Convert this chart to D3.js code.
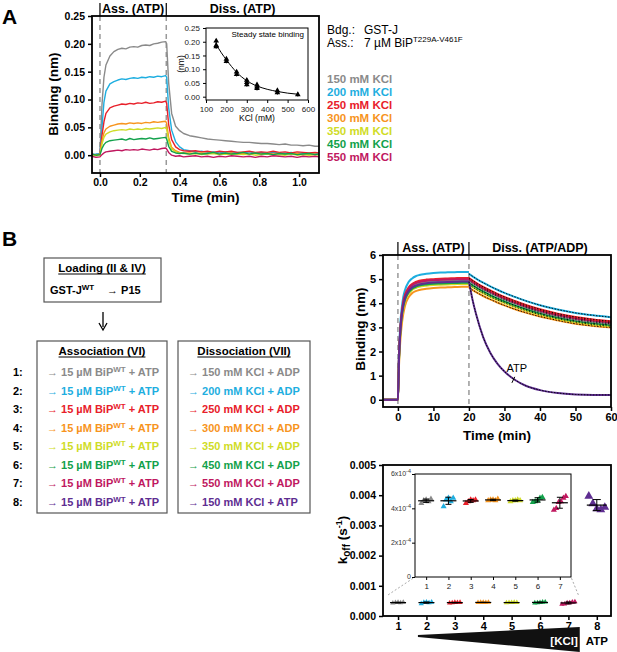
<!DOCTYPE html>
<html>
<head>
<meta charset="utf-8">
<script src="https://cdn.jsdelivr.net/npm/d3@7"></script>
<style>
  body { margin: 0; background: #fff; }
  svg { font-family: "Liberation Sans", Arial, sans-serif; }
</style>
</head>
<body>
<svg id="fig" width="617" height="652"></svg>
<script>
// ---------- data ----------
const kcl = [150, 200, 250, 300, 350, 450, 550];
const kclColor = ['#8a8a8a', '#1eaee0', '#e8202a', '#f7941d', '#cfdc27', '#12a14b', '#c0185f'];
const atpColor = '#5e2d91';

// panel A: binding traces (nm) vs time (min)
const tA = [-0.04,-0.02,0,0.01,0.02,0.03,0.05,0.07,0.09,0.11,0.13,0.15,0.17,0.19,0.21,0.23,0.25,0.27,0.29,0.31,0.33,
            0.335,0.345,0.36,0.38,0.40,0.42,0.45,0.48,0.51,0.54,0.57,0.60,0.63,0.66,0.69,0.72,0.75,0.78,0.81,0.84,0.87,
            0.90,0.93,0.96,0.99,1.02,1.05,1.08,1.10];
const bind150 = [0.002,0.001,0.003,0.09,0.14,0.162,0.178,0.186,0.19,0.192,0.191,0.194,0.195,0.194,0.197,0.198,0.197,0.2,0.201,0.203,0.204,
                 0.2,0.13,0.075,0.052,0.044,0.039,0.035,0.033,0.031,0.029,0.028,0.027,0.026,0.025,0.024,0.023,0.023,0.022,0.021,0.021,0.02,
                 0.019,0.02,0.018,0.018,0.017,0.018,0.016,0.016];
const bind200 = [0.001,0.002,0.002,0.05,0.095,0.115,0.128,0.132,0.135,0.137,0.136,0.138,0.139,0.138,0.14,0.139,0.141,0.14,0.142,0.141,0.143,
                 0.14,0.085,0.045,0.024,0.015,0.01,0.008,0.006,0.007,0.005,0.006,0.004,0.006,0.005,0.005,0.004,0.006,0.004,0.005,0.003,0.005,
                 0.004,0.003,0.005,0.003,0.004,0.003,0.004,0.003];
const bind250 = [0.002,0.0,0.002,0.035,0.06,0.075,0.085,0.088,0.09,0.092,0.091,0.093,0.092,0.094,0.093,0.095,0.093,0.094,0.096,0.095,0.097,
                 0.093,0.055,0.028,0.015,0.01,0.008,0.007,0.008,0.006,0.007,0.005,0.007,0.006,0.007,0.005,0.006,0.007,0.005,0.006,0.005,0.007,
                 0.005,0.006,0.004,0.006,0.005,0.004,0.005,0.004];
const bind300 = [0.0,0.001,0.0,0.025,0.04,0.047,0.052,0.054,0.056,0.057,0.056,0.058,0.057,0.058,0.057,0.059,0.058,0.06,0.059,0.06,0.061,
                 0.057,0.032,0.014,0.008,0.005,0.004,0.004,0.003,0.004,0.003,0.004,0.002,0.003,0.004,0.002,0.003,0.002,0.003,0.002,0.003,0.002,
                 0.003,0.001,0.002,0.003,0.001,0.002,0.002,0.001];
const bind350 = [0.001,-0.001,0.0,0.02,0.032,0.038,0.042,0.044,0.045,0.046,0.045,0.047,0.046,0.047,0.046,0.048,0.047,0.048,0.049,0.048,0.05,
                 0.046,0.026,0.011,0.006,0.004,0.003,0.002,0.003,0.001,0.002,0.003,0.001,0.002,0.001,0.002,0.001,0.002,0.0,0.001,0.002,0.0,
                 0.001,0.0,0.002,0.0,0.001,0.0,0.001,0.0];
const bind450 = [0.002,0.0,0.001,0.012,0.019,0.023,0.026,0.027,0.028,0.029,0.027,0.03,0.028,0.029,0.03,0.029,0.031,0.029,0.03,0.031,0.032,
                 0.029,0.016,0.007,0.004,0.003,0.004,0.002,0.004,0.002,0.003,0.005,0.002,0.004,0.002,0.003,0.005,0.002,0.004,0.002,0.003,0.001,
                 0.003,0.002,0.003,0.001,0.002,0.003,0.001,0.002];
const bind550 = [-0.002,-0.004,-0.003,0.001,0.004,0.006,0.007,0.008,0.009,0.008,0.01,0.009,0.01,0.009,0.011,0.01,0.009,0.011,0.01,0.012,0.013,
                 0.011,0.005,0.0,-0.002,-0.001,-0.003,-0.002,-0.001,-0.003,-0.002,-0.004,-0.002,-0.003,-0.001,-0.002,-0.003,-0.002,-0.004,-0.002,-0.003,-0.001,
                 -0.002,-0.003,-0.002,-0.004,-0.002,-0.003,-0.002,-0.003];
const tracesA = [bind150, bind200, bind250, bind300, bind350, bind450, bind550];

// panel A inset: steady state binding
const ssKcl  = [150, 150, 150, 200, 200, 250, 250, 300, 300, 300, 350, 350, 350, 450, 450, 550];
const ssBind = [0.203, 0.187, 0.182, 0.137, 0.129, 0.09, 0.081, 0.06, 0.052, 0.044, 0.043, 0.036, 0.03, 0.022, 0.015, 0.008];
const fitKcl  = [150, 175, 200, 250, 300, 350, 400, 450, 500, 550];
const fitBind = [0.19, 0.16, 0.134, 0.089, 0.058, 0.039, 0.027, 0.019, 0.013, 0.009];

// panel B: flow chart rows
const assocRows = ['15 µM BiP', '15 µM BiP', '15 µM BiP', '15 µM BiP', '15 µM BiP', '15 µM BiP', '15 µM BiP', '15 µM BiP'];
const dissocRows = ['150 mM KCl + ADP', '200 mM KCl + ADP', '250 mM KCl + ADP', '300 mM KCl + ADP',
                    '350 mM KCl + ADP', '450 mM KCl + ADP', '550 mM KCl + ADP', '150 mM KCl + ATP'];
const rowColor = kclColor.concat([atpColor]);

// panel B top: association / dissociation traces
const tAss = [-4, 0, 0.3, 0.7, 1, 1.5, 2, 3, 4, 5, 6, 8, 10, 12, 14, 16, 18, 20];
const tDis = [20, 22, 24, 26, 28, 30, 33, 36, 40, 45, 50, 55, 60];
const tDisAtp = [20, 21, 22, 24, 26, 28, 30, 33, 36, 40, 45, 50, 55, 60];
const assB = [
  [0,0,1.7,2.9,3.4,3.95,4.25,4.55,4.7,4.78,4.83,4.88,4.91,4.92,4.93,4.94,4.95,4.95],
  [0,0,1.9,3.2,3.7,4.25,4.55,4.88,5.03,5.12,5.17,5.22,5.25,5.27,5.28,5.29,5.3,5.3],
  [0,0,1.8,3.0,3.5,4.05,4.35,4.65,4.8,4.88,4.93,4.98,5.0,5.02,5.03,5.04,5.05,5.05],
  [0,0,1.4,2.5,3.0,3.55,3.9,4.25,4.42,4.5,4.55,4.6,4.63,4.65,4.66,4.67,4.68,4.68],
  [0,0,1.6,2.8,3.3,3.8,4.1,4.4,4.55,4.63,4.68,4.73,4.76,4.77,4.78,4.79,4.8,4.8],
  [0,0,1.65,2.85,3.35,3.85,4.15,4.45,4.6,4.68,4.73,4.78,4.81,4.82,4.83,4.84,4.85,4.85],
  [0,0,1.75,2.95,3.45,4.0,4.3,4.6,4.75,4.83,4.88,4.93,4.96,4.97,4.98,4.99,5.0,5.0],
  [0,0,1.7,2.9,3.4,3.9,4.2,4.5,4.65,4.73,4.78,4.83,4.86,4.87,4.88,4.89,4.9,4.9]
];
const disB = [
  [4.95,4.75,4.58,4.43,4.29,4.16,3.99,3.83,3.65,3.47,3.33,3.23,3.15],
  [5.22,5.02,4.85,4.7,4.56,4.43,4.26,4.1,3.92,3.74,3.6,3.5,3.42],
  [5.05,4.85,4.68,4.53,4.39,4.26,4.09,3.93,3.75,3.57,3.43,3.33,3.25],
  [4.65,4.46,4.3,4.16,4.03,3.91,3.75,3.61,3.45,3.29,3.15,3.06,3.0],
  [4.78,4.58,4.42,4.27,4.14,4.02,3.85,3.7,3.53,3.36,3.22,3.12,3.05],
  [4.85,4.66,4.49,4.34,4.2,4.08,3.91,3.76,3.58,3.41,3.27,3.17,3.1],
  [5.0,4.8,4.63,4.48,4.34,4.21,4.04,3.88,3.7,3.52,3.38,3.28,3.2]
];
const disAtp = [4.9, 4.15, 3.55, 2.6, 1.95, 1.5, 1.17, 0.82, 0.58, 0.4, 0.28, 0.22, 0.2, 0.2];

// panel B bottom: k_off (s^-1) per condition
const koffCond = [1, 2, 3, 4, 5, 6, 7, 8];
const koffVals = [
  [4.3e-4, 4.45e-4, 4.5e-4, 4.4e-4, 4.55e-4],
  [4.1e-4, 4.5e-4, 4.6e-4, 4.4e-4, 4.6e-4],
  [4.3e-4, 4.4e-4, 4.5e-4, 4.45e-4, 4.5e-4],
  [4.45e-4, 4.5e-4, 4.5e-4, 4.45e-4, 4.55e-4],
  [4.4e-4, 4.45e-4, 4.45e-4, 4.5e-4, 4.45e-4],
  [4.35e-4, 4.4e-4, 4.45e-4, 4.6e-4, 4.65e-4],
  [3.9e-4, 4.0e-4, 4.35e-4, 4.4e-4, 4.6e-4, 4.7e-4],
  [3.97e-3, 3.72e-3, 3.55e-3, 3.52e-3, 3.6e-3]
];

// ---------- helpers ----------
const svg = d3.select('#fig');
const font = 'Liberation Sans, Arial, sans-serif';
const tickFont = 10.5;

function boldAxis(g, size) {
  g.selectAll('text').attr('font-weight', 'bold').attr('font-size', size).attr('fill', '#000').attr('font-family', font);
  g.selectAll('line').attr('stroke', '#000').attr('stroke-width', 1.5);
  g.select('.domain').remove();
}

function frame(x0, y0, x1, y1, w) {
  svg.append('rect').attr('x', x0).attr('y', y0).attr('width', x1 - x0).attr('height', y1 - y0)
    .attr('fill', 'none').attr('stroke', '#000').attr('stroke-width', w);
}

function label(x, y, txt, opt) {
  opt = opt || {};
  return svg.append('text').attr('x', x).attr('y', y).text(txt)
    .attr('font-size', opt.size || 12).attr('font-weight', opt.weight || 'bold')
    .attr('text-anchor', opt.anchor || 'start').attr('fill', opt.fill || '#000');
}

function vlabel(x, y, txt, size) {
  return label(x, y, txt, {size: size, anchor: 'middle'}).attr('transform', `rotate(-90,${x},${y})`);
}

function underlined(x, y, txt, size) {
  const t = label(x, y, txt, {size: size, anchor: 'middle'});
  const w = t.node().getComputedTextLength();
  svg.append('line').attr('x1', x - w / 2).attr('x2', x + w / 2).attr('y1', y + 2).attr('y2', y + 2)
    .attr('stroke', '#000').attr('stroke-width', 1);
}

// ---------- panel A ----------
label(2, 24, 'A', {size: 21});

const xA = d3.scaleLinear().domain([-0.04, 1.1]).range([92, 319]);
const yA = d3.scaleLinear().domain([-0.032, 0.25]).range([173, 16]);

svg.append('g').attr('transform', 'translate(92,0)')
  .call(d3.axisLeft(yA).tickValues([0, 0.05, 0.1, 0.15, 0.2, 0.25]).tickFormat(d3.format('.2f')).tickSize(4).tickPadding(3))
  .call(g => boldAxis(g, tickFont));
svg.append('g').attr('transform', 'translate(0,173)')
  .call(d3.axisBottom(xA).tickValues([0, 0.2, 0.4, 0.6, 0.8, 1.0]).tickFormat(d3.format('.1f')).tickSize(4).tickPadding(2))
  .call(g => boldAxis(g, tickFont));

[0, 0.333].forEach(t => {
  svg.append('line').attr('x1', xA(t)).attr('x2', xA(t)).attr('y1', 3).attr('y2', 16)
    .attr('stroke', '#000').attr('stroke-width', 1.2);
  svg.append('line').attr('x1', xA(t)).attr('x2', xA(t)).attr('y1', 16).attr('y2', 173)
    .attr('stroke', '#999').attr('stroke-width', 1.5).attr('stroke-dasharray', '5,4');
});
label((xA(0) + xA(0.333)) / 2, 13, 'Ass. (ATP)', {size: 12.5, anchor: 'middle'});
label((xA(0.333) + xA(1.1)) / 2, 13, 'Diss. (ATP)', {size: 12.5, anchor: 'middle'});

const lineA = d3.line().x((d, i) => xA(tA[i])).y(d => yA(d));
tracesA.forEach((s, k) => {
  svg.append('path').datum(s).attr('d', lineA).attr('fill', 'none')
    .attr('stroke', kclColor[k]).attr('stroke-width', 1.4).attr('stroke-linejoin', 'round');
});
frame(92, 16, 319, 173, 1.8);

vlabel(58, 94, 'Binding (nm)', 13.5);
label((92 + 319) / 2, 202, 'Time (min)', {size: 13.5, anchor: 'middle'});

// inset
const xI = d3.scaleLinear().domain([100, 600]).range([206, 308]);
const yI = d3.scaleLinear().domain([-0.012, 0.25]).range([100, 28]);
svg.append('rect').attr('x', 206).attr('y', 28).attr('width', 102).attr('height', 72).attr('fill', '#fff');
const insA = svg.append('g');
insA.append('g').attr('transform', 'translate(206,0)')
  .call(d3.axisLeft(yI).tickValues([0, 0.05, 0.1, 0.15, 0.2, 0.25]).tickFormat(d3.format('.2f')).tickSize(3))
  .call(g => { g.select('.domain').remove(); g.selectAll('text').attr('font-size', 8).attr('fill', '#222'); });
insA.append('g').attr('transform', 'translate(0,100)')
  .call(d3.axisBottom(xI).tickValues([100, 200, 300, 400, 500, 600]).tickFormat(d3.format('d')).tickSize(3))
  .call(g => { g.select('.domain').remove(); g.selectAll('text').attr('font-size', 8).attr('fill', '#222'); });
frame(206, 28, 308, 100, 1);
insA.append('path').datum(fitKcl.map((c, i) => [c, fitBind[i]]))
  .attr('d', d3.line().x(d => xI(d[0])).y(d => yI(d[1])).curve(d3.curveMonotoneX))
  .attr('fill', 'none').attr('stroke', '#000').attr('stroke-width', 1);
d3.groups(ssKcl.map((c, i) => [c, ssBind[i]]), d => d[0]).forEach(([c, pts]) => {
  const ext = d3.extent(pts, d => d[1]);
  insA.append('line').attr('x1', xI(c)).attr('x2', xI(c)).attr('y1', yI(ext[0]) + 2).attr('y2', yI(ext[1]) - 2)
    .attr('stroke', '#000').attr('stroke-width', 1);
});
insA.selectAll('path.tri').data(ssKcl.map((c, i) => [c, ssBind[i]])).join('path').attr('class', 'tri')
  .attr('d', d3.symbol(d3.symbolTriangle, 14))
  .attr('transform', d => `translate(${xI(d[0])},${yI(d[1])})`).attr('fill', '#000');
label(304, 37, 'Steady state binding', {size: 8, weight: 'normal', anchor: 'end'});
label((206 + 308) / 2, 121, 'KCl (mM)', {size: 8.5, weight: 'normal', anchor: 'middle'});
label(184, 64, '(nm)', {size: 8.5, weight: 'normal', anchor: 'middle'}).attr('transform', 'rotate(-90,184,64)');

// text + legend
label(327, 34, 'Bdg.:', {size: 12, weight: 'normal'});
label(364, 34, 'GST-J', {size: 12, weight: 'normal'});
label(327, 47, 'Ass.:', {size: 12, weight: 'normal'});
const ass = label(364, 47, '7 µM BiP', {size: 12, weight: 'normal'});
ass.append('tspan').attr('dy', -5).attr('font-size', 8).text('T229A-V461F');
kcl.forEach((c, i) => {
  label(327, 83 + i * 13, c + ' mM KCl', {size: 11.5, fill: kclColor[i]});
});

// ---------- panel B : flow chart ----------
label(2, 246, 'B', {size: 21});

svg.append('rect').attr('x', 44).attr('y', 258).attr('width', 117).attr('height', 44)
  .attr('fill', 'none').attr('stroke', '#555').attr('stroke-width', 1.2);
underlined(102, 272, 'Loading (II & IV)', 11.5);
const gst = label(50, 294, 'GST-J', {size: 11});
gst.append('tspan').attr('dy', -4).attr('font-size', 8).text('WT');
const p15 = label(107, 294, '→', {size: 11, weight: 'normal'});
p15.append('tspan').attr('font-weight', 'bold').text(' P15');

svg.append('line').attr('x1', 103).attr('x2', 103).attr('y1', 312).attr('y2', 327)
  .attr('stroke', '#000').attr('stroke-width', 1.3);
svg.append('path').attr('d', 'M99,323 L103,330 L107,323').attr('fill', 'none').attr('stroke', '#000').attr('stroke-width', 1.3);

svg.append('rect').attr('x', 37).attr('y', 341).attr('width', 130).attr('height', 172)
  .attr('fill', 'none').attr('stroke', '#555').attr('stroke-width', 1.2);
svg.append('rect').attr('x', 178).attr('y', 341).attr('width', 132).attr('height', 172)
  .attr('fill', 'none').attr('stroke', '#555').attr('stroke-width', 1.2);
underlined(102, 355, 'Association (VI)', 11.5);
underlined(244, 355, 'Dissociation (VII)', 11.5);

assocRows.forEach((txt, i) => {
  const y = 376 + i * 18.5;
  label(13, y, (i + 1) + ':', {size: 11});
  const a = label(47, y, '→ ', {size: 11, weight: 'normal', fill: rowColor[i]});
  a.append('tspan').attr('font-weight', 'bold').text(txt);
  a.append('tspan').attr('font-weight', 'bold').attr('dy', -4).attr('font-size', 8).text('WT');
  a.append('tspan').attr('font-weight', 'bold').attr('dy', 4).text(' + ATP');
  const d = label(188, y, '→ ', {size: 11, weight: 'normal', fill: rowColor[i]});
  d.append('tspan').attr('font-weight', 'bold').text(dissocRows[i]);
});

// ---------- panel B top: traces ----------
const xB = d3.scaleLinear().domain([-4.2, 60]).range([383, 611]);
const yB = d3.scaleLinear().domain([-0.3, 6]).range([407, 255]);
svg.append('g').attr('transform', 'translate(383,0)')
  .call(d3.axisLeft(yB).tickValues([0, 1, 2, 3, 4, 5, 6]).tickFormat(d3.format('d')).tickSize(4).tickPadding(3))
  .call(g => boldAxis(g, tickFont + 0.5));
svg.append('g').attr('transform', 'translate(0,407)')
  .call(d3.axisBottom(xB).tickValues([0, 10, 20, 30, 40, 50, 60]).tickFormat(d3.format('d')).tickSize(4).tickPadding(2))
  .call(g => boldAxis(g, tickFont + 0.5));
[0, 20].forEach(t => {
  svg.append('line').attr('x1', xB(t)).attr('x2', xB(t)).attr('y1', 242).attr('y2', 255)
    .attr('stroke', '#000').attr('stroke-width', 1.2);
  svg.append('line').attr('x1', xB(t)).attr('x2', xB(t)).attr('y1', 255).attr('y2', 407)
    .attr('stroke', '#999').attr('stroke-width', 1.5).attr('stroke-dasharray', '5,4');
});
label((xB(0) + xB(20)) / 2, 252, 'Ass. (ATP)', {size: 12.5, anchor: 'middle'});
label((xB(20) + xB(60)) / 2, 252, 'Diss. (ATP/ADP)', {size: 12.5, anchor: 'middle'});

const lineB = d3.line().x(d => xB(d[0])).y(d => yB(d[1])).curve(d3.curveMonotoneX);
const drawB = (pts, col) => {
  svg.append('path').datum(pts).attr('d', lineB).attr('fill', 'none').attr('stroke', col).attr('stroke-width', 2);
};
const fitB = pts => {
  svg.append('path').datum(pts).attr('d', lineB).attr('fill', 'none').attr('stroke', '#000')
    .attr('stroke-width', 0.9).attr('stroke-dasharray', '1.5,1.5');
};
// association phase (ATP curve included)
assB.forEach((s, k) => drawB(tAss.map((t, i) => [t, s[i]]), k < 7 ? kclColor[k] : atpColor));
// dissociation phase, ADP
[3, 4, 5, 0, 6, 2, 1].forEach(k => {
  const pts = tDis.map((t, i) => [t, disB[k][i]]);
  drawB(pts, kclColor[k]);
  fitB(pts);
});
const atpPts = tDisAtp.map((t, i) => [t, disAtp[i]]);
drawB(atpPts, atpColor);
fitB(atpPts);
frame(383, 255, 611, 407, 1.8);

label(xB(33.5), yB(1.15), 'ATP', {size: 11, weight: 'normal', anchor: 'middle'});
svg.append('line').attr('x1', xB(32.9)).attr('y1', yB(0.95)).attr('x2', xB(32.1)).attr('y2', yB(0.7))
  .attr('stroke', '#000').attr('stroke-width', 1);
vlabel(365, 329, 'Binding (nm)', 13.5);
label(497, 440, 'Time (min)', {size: 13.5, anchor: 'middle'});

// ---------- panel B bottom: k_off ----------
const xK = d3.scaleLinear().domain([0.47, 8.5]).range([383, 611]);
const yK = d3.scaleLinear().domain([0, 0.005]).range([616, 465]);
svg.append('g').attr('transform', 'translate(383,0)')
  .call(d3.axisLeft(yK).tickValues([0, 0.001, 0.002, 0.003, 0.004, 0.005]).tickFormat(d3.format('.3f')).tickSize(4).tickPadding(3))
  .call(g => boldAxis(g, tickFont));
svg.append('g').attr('transform', 'translate(0,616)')
  .call(d3.axisBottom(xK).tickValues(koffCond).tickFormat(d3.format('d')).tickSize(4).tickPadding(2))
  .call(g => boldAxis(g, tickFont + 0.5));

function groupMarks(g, xs, ys, c, vals, col, o) {
  const m = d3.mean(vals), sd = d3.deviation(vals);
  const n = vals.length;
  vals.forEach((v, i) => {
    g.append('path').attr('d', d3.symbol(d3.symbolTriangle, o.size))
      .attr('transform', `translate(${xs(c) + (i - (n - 1) / 2) * o.spread},${ys(v)})`).attr('fill', col);
  });
  g.append('line').attr('x1', xs(c) - o.mw).attr('x2', xs(c) + o.mw).attr('y1', ys(m)).attr('y2', ys(m))
    .attr('stroke', '#000').attr('stroke-width', 1.2);
  g.append('line').attr('x1', xs(c)).attr('x2', xs(c)).attr('y1', ys(m - sd)).attr('y2', ys(m + sd))
    .attr('stroke', '#000').attr('stroke-width', 1);
  [m - sd, m + sd].forEach(v => g.append('line').attr('x1', xs(c) - o.cap).attr('x2', xs(c) + o.cap)
    .attr('y1', ys(v)).attr('y2', ys(v)).attr('stroke', '#000').attr('stroke-width', 1));
}
const mainK = svg.append('g');
koffCond.forEach((c, k) => {
  const col = k < 7 ? kclColor[k] : atpColor;
  if (k < 7) groupMarks(mainK, xK, yK, c, koffVals[k], col, {size: 12, spread: 2.6, mw: 8, cap: 3});
  else groupMarks(mainK, xK, yK, c, koffVals[k], col, {size: 34, spread: 4, mw: 10, cap: 4});
});
frame(383, 465, 611, 616, 1.8);

// zoom inset
const xKi = d3.scaleLinear().domain([0.5, 7.5]).range([415, 571]);
const yKi = d3.scaleLinear().domain([0, 6e-4]).range([577, 474]);
svg.append('line').attr('x1', xK(0.65)).attr('y1', yK(0.0007)).attr('x2', 415).attr('y2', 577)
  .attr('stroke', '#aaa').attr('stroke-width', 1).attr('stroke-dasharray', '2,2');
svg.append('line').attr('x1', xK(7.35)).attr('y1', yK(0.0007)).attr('x2', 571).attr('y2', 577)
  .attr('stroke', '#aaa').attr('stroke-width', 1).attr('stroke-dasharray', '2,2');
svg.append('rect').attr('x', 415).attr('y', 474).attr('width', 156).attr('height', 103).attr('fill', '#fff');
const insK = svg.append('g');
insK.append('g').attr('transform', 'translate(415,0)')
  .call(d3.axisLeft(yKi).tickValues([0, 2e-4, 4e-4, 6e-4]).tickFormat(() => '').tickSize(3))
  .call(g => g.select('.domain').remove());
[0, 2e-4, 4e-4, 6e-4].forEach(v => {
  const t = label(411, yKi(v), v === 0 ? '0' : d3.format('.0f')(v * 1e4) + 'x10', {size: 7, weight: 'normal', anchor: 'end', fill: '#333'})
    .attr('dy', '0.35em');
  if (v !== 0) t.append('tspan').attr('dy', -3).attr('font-size', 5.5).text('-4');
});
insK.append('g').attr('transform', 'translate(0,577)')
  .call(d3.axisBottom(xKi).tickValues(koffCond.slice(0, 7)).tickFormat(d3.format('d')).tickSize(3))
  .call(g => { g.select('.domain').remove(); g.selectAll('text').attr('font-size', 8).attr('fill', '#222'); });
koffCond.slice(0, 7).forEach((c, k) => {
  groupMarks(insK, xKi, yKi, c, koffVals[k], kclColor[k], {size: 16, spread: 2.4, mw: 8, cap: 3});
});
frame(415, 474, 571, 577, 1);

vlabel(347, 540, '', 13.5)
  .call(t => {
    t.append('tspan').text('k');
    t.append('tspan').attr('font-size', 10).attr('dy', 3).text('off');
    t.append('tspan').attr('dy', -3).text(' (s');
    t.append('tspan').attr('font-size', 9).attr('dy', -5).text('-1');
    t.append('tspan').attr('dy', 5).text(')');
  });

// [KCl] wedge
svg.append('path').attr('d', d3.line()([[xK(1.7), 635], [xK(7.4), 627], [xK(7.4), 652], [xK(1.7), 637]]))
  .attr('fill', '#111');
label(xK(7.33), 645, '[KCl]', {size: 11.5, anchor: 'end', fill: '#fff'});
label(xK(8), 645, 'ATP', {size: 11.5, anchor: 'middle'});
</script>
</body>
</html>
